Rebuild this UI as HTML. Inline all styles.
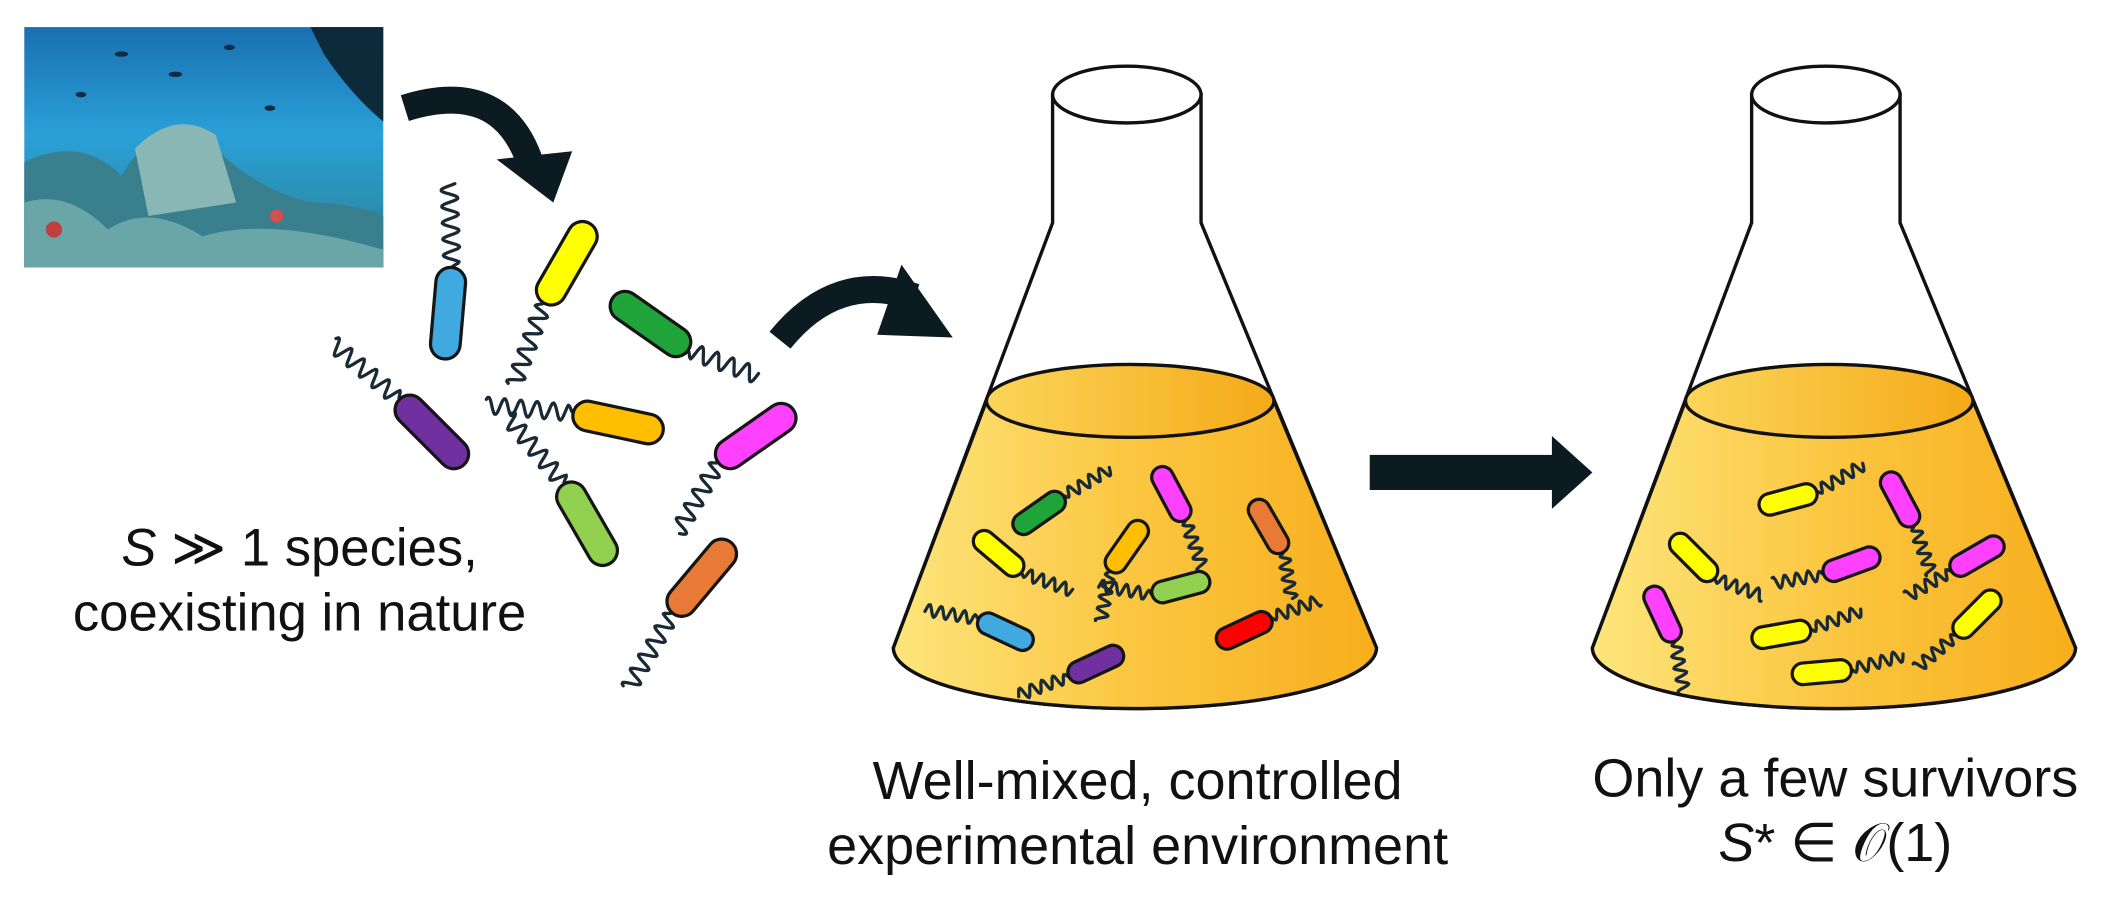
<!DOCTYPE html>
<html><head><meta charset="utf-8"><style>
html,body{margin:0;padding:0;background:#fff;width:2116px;height:899px;overflow:hidden}
svg{display:block}
text{font-family:"Liberation Sans","DejaVu Sans",sans-serif;fill:#111}
</style></head><body>
<svg id="s" width="2116" height="899" viewBox="0 0 1568 666" xmlns="http://www.w3.org/2000/svg">
<defs>
<linearGradient id="sea" x1="0" y1="0" x2="0" y2="1">
<stop offset="0" stop-color="#1a6fb0"/><stop offset="0.45" stop-color="#2aa0d8"/><stop offset="0.75" stop-color="#2b8fb0"/><stop offset="1" stop-color="#1c4a6a"/></linearGradient>
<linearGradient id="liq" x1="0" y1="0" x2="1" y2="0">
<stop offset="0" stop-color="#fde57c"/><stop offset="0.5" stop-color="#fbc640"/><stop offset="1" stop-color="#f7ae1c"/></linearGradient>
<linearGradient id="liqtop" x1="0" y1="0" x2="1" y2="0">
<stop offset="0" stop-color="#fbd55a"/><stop offset="1" stop-color="#f5aa18"/></linearGradient>
</defs>
<rect x="18" y="20" width="266" height="178" fill="url(#sea)"/>
<path d="M18 120 Q60 100 90 130 Q120 80 160 110 Q190 140 230 150 Q260 150 284 160 L284 198 L18 198Z" fill="#3a7f8e"/>
<path d="M18 150 Q50 140 80 170 Q110 150 150 175 Q200 160 284 185 L284 198 L18 198Z" fill="#6aa6a8"/>
<path d="M100 110 Q130 80 160 100 L175 150 L110 160Z" fill="#8ab6b6"/>
<path d="M230 20 L284 20 L284 90 Q260 70 240 40Z" fill="#0d2a3a"/>
<circle cx="40" cy="170" r="6" fill="#c04040"/><circle cx="205" cy="160" r="5" fill="#d05050"/>
<g fill="#0e2d45"><ellipse cx="90" cy="40" rx="5" ry="2"/><ellipse cx="130" cy="55" rx="5" ry="2"/><ellipse cx="170" cy="35" rx="4" ry="2"/><ellipse cx="60" cy="70" rx="4" ry="2"/><ellipse cx="200" cy="80" rx="4" ry="2"/></g>
<g id="flasks"></g>
<path d="M300 80 Q370 58 392 118" fill="none" stroke="#0c1a22" stroke-width="20"/>
<polygon points="368,118 424,112 410,150" fill="#0c1a22"/>
<path d="M578 252 Q620 200 678 220" fill="none" stroke="#0c1a22" stroke-width="20"/>
<polygon points="668,196 706,250 650,248" fill="#0c1a22"/>
<rect x="1015" y="337" width="138" height="26" fill="#0c1a22"/>
<polygon points="1150,323 1180,350 1150,377" fill="#0c1a22"/>
<g id="bugs"></g>
<text x="222" y="419" font-size="39" text-anchor="middle"><tspan font-style="italic">S</tspan> ≫ 1 species,</text>
<text x="222" y="467" font-size="39" text-anchor="middle">coexisting in nature</text>
<text x="843" y="592" font-size="40" text-anchor="middle">Well-mixed, controlled</text>
<text x="843" y="640" font-size="40" text-anchor="middle">experimental environment</text>
<text x="1360" y="590" font-size="40" text-anchor="middle">Only a few survivors</text>
<text x="1360" y="638" font-size="40" text-anchor="middle"><tspan font-style="italic">S</tspan>* ∈ 𝒪(1)</text>
</svg>
<script>
var NS="http://www.w3.org/2000/svg";
function el(t,a,p){var e=document.createElementNS(NS,t);for(var k in a)e.setAttribute(k,a[k]);p.appendChild(e);return e;}
var F=document.getElementById("flasks");
function flask(dx){
 var cx=835+dx;
 var d="M"+(780+dx)+" 70 L"+(780+dx)+" 165 L"+(662+dx)+" 480 A179 45 0 0 0 "+(1020+dx)+" 480 L"+(890+dx)+" 165 L"+(890+dx)+" 70Z";
 el("path",{d:d,fill:"#fff",stroke:"#111","stroke-width":2.5},F);
 var lx=731+dx, rx=944+dx;
 el("path",{d:"M"+lx+" 297 L"+(662+dx)+" 480 A179 45 0 0 0 "+(1020+dx)+" 480 L"+rx+" 297Z",fill:"url(#liq)",stroke:"#111","stroke-width":2.5},F);
 el("ellipse",{cx:(lx+rx)/2,cy:297,rx:(rx-lx)/2,ry:27,fill:"url(#liqtop)",stroke:"#111","stroke-width":2.5},F);
 el("ellipse",{cx:cx,cy:70,rx:55,ry:21,fill:"#fff",stroke:"#111","stroke-width":2.5},F);
}
flask(0);flask(518);
var B=document.getElementById("bugs");
var C={bl:"#3fa9e0",ye:"#ffff00",gr:"#1fa43a",pu:"#7030a0",or:"#ffbf00",ma:"#ff40ff",lg:"#92d050",rd:"#e8702a",re:"#ff0000",o2:"#e87a35"};
function bug(x,y,ang,L,W,col,end,fang,fl){
 var r=ang*Math.PI/180, ux=Math.cos(r), uy=Math.sin(r);
 var sx=x+ux*end*L/2, sy=y+uy*end*L/2;
 var fr=fang*Math.PI/180, fx=Math.cos(fr), fy=Math.sin(fr), px=-fy, py=fx;
 var n=Math.round(fl), pts="M"+sx.toFixed(1)+" "+sy.toFixed(1), A=W*0.28, wl=W*0.55;
 for(var i=1;i<=n;i++){var t=i*fl/n, a=A*Math.sin(t/wl*2*Math.PI)*Math.min(1,t/4);
  pts+=" L"+(sx+fx*t+px*a).toFixed(1)+" "+(sy+fy*t+py*a).toFixed(1);}
 el("path",{d:pts,fill:"none",stroke:"#1a2a35","stroke-width":2.4,"stroke-linejoin":"round","stroke-linecap":"round"},B);
 el("rect",{x:x-L/2,y:y-W/2,width:L,height:W,rx:W/2,fill:C[col]||col,stroke:"#151515","stroke-width":2.4,transform:"rotate("+ang+" "+x+" "+y+")"},B);
}
bug(332,232,95,68,22,"bl",-1,-92,62);
bug(420,195,-60,68,22,"ye",-1,110,65);
bug(482,240,35,68,22,"gr",1,20,55);
bug(320,320,45,68,22,"pu",-1,-140,65);
bug(458,313,12,68,22,"or",-1,-175,65);
bug(560,323,-35,68,22,"ma",-1,120,60);
bug(435,388,60,68,22,"lg",-1,-130,65);
bug(520,428,-50,68,22,"o2",-1,120,65);
bug(770,380,-35,44,16,"gr",1,-30,40);
bug(740,410,40,44,16,"ye",1,20,40);
bug(868,366,62,44,16,"ma",1,70,38);
bug(835,405,-55,44,16,"or",-1,100,38);
bug(940,390,60,44,16,"o2",1,80,35);
bug(875,435,-15,44,16,"lg",-1,-170,40);
bug(745,468,25,44,16,"bl",-1,-170,40);
bug(812,492,-25,44,16,"pu",-1,160,40);
bug(922,467,-25,44,16,"re",1,-20,38);
bug(1325,370,-15,44,16,"ye",1,-30,40);
bug(1408,370,62,44,16,"ma",1,70,38);
bug(1255,413,45,44,16,"ye",1,20,38);
bug(1372,418,-20,44,16,"ma",-1,170,38);
bug(1465,412,-30,44,16,"ma",-1,150,38);
bug(1232,455,65,44,16,"ma",1,80,38);
bug(1320,470,-10,44,16,"ye",1,-20,40);
bug(1465,455,-45,44,16,"ye",-1,140,38);
bug(1350,498,-5,44,16,"ye",1,-15,40);
</script>
</body></html>
